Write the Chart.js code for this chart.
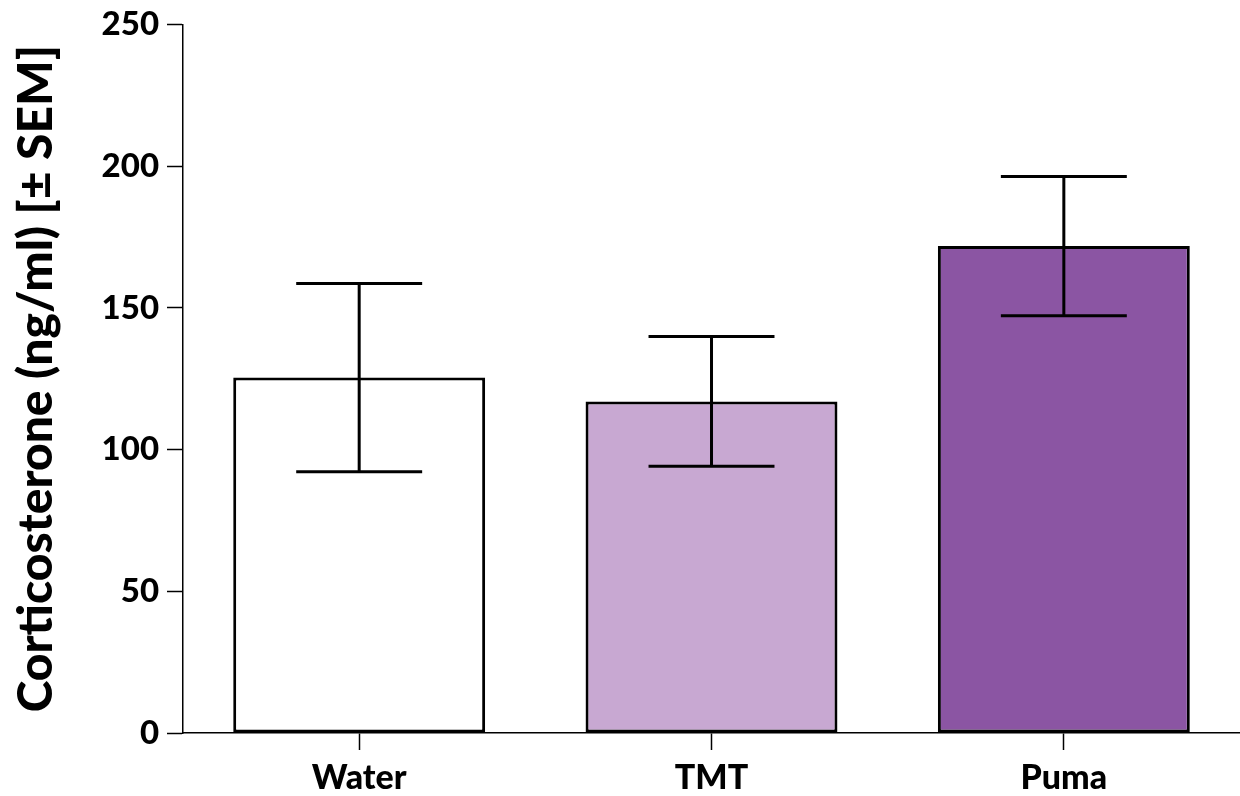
<!DOCTYPE html>
<html>
<head>
<meta charset="utf-8">
<script src="https://cdn.jsdelivr.net/npm/chart.js@4"></script>
<style>
  html, body { margin: 0; padding: 0; background: #ffffff; }
  #wrap { width: 1240px; height: 796px; position: relative; }
</style>
</head>
<body>
<div id="wrap"><canvas id="chart" width="1240" height="796"></canvas></div>
<script>
// Groups and plasma corticosterone means with their SEM
const groups = ['Water', 'TMT', 'Puma'];
const means = [125.4, 117.0, 171.8];
const sems = [33.2, 22.9, 24.6];
const barColors = ['#ffffff', '#c8a8d2', '#8b55a3'];
const yTicks = [0, 50, 100, 150, 200, 250];

const FONT = 'Lato, "Open Sans", "Liberation Sans", sans-serif';

// Draws the ± SEM whiskers on top of each bar
const semWhiskers = {
  id: 'semWhiskers',
  afterDatasetsDraw(chart) {
    const ctx = chart.ctx;
    const y = chart.scales.y;
    const meta = chart.getDatasetMeta(0);
    ctx.save();
    ctx.strokeStyle = '#000';
    ctx.lineWidth = 3;
    ctx.lineCap = 'butt';
    meta.data.forEach((bar, i) => {
      const x = bar.x;
      const hi = y.getPixelForValue(means[i] + sems[i]);
      const lo = y.getPixelForValue(means[i] - sems[i]);
      const half = bar.width * 0.25;
      ctx.beginPath();
      ctx.moveTo(x, hi); ctx.lineTo(x, lo);
      ctx.moveTo(x - half, hi); ctx.lineTo(x + half, hi);
      ctx.moveTo(x - half, lo); ctx.lineTo(x + half, lo);
      ctx.stroke();
    });
    ctx.restore();
  }
};

new Chart(document.getElementById('chart'), {
  type: 'bar',
  data: {
    labels: groups,
    datasets: [{
      data: means,
      backgroundColor: barColors,
      borderColor: '#000',
      borderWidth: 3,
      borderSkipped: false,
      categoryPercentage: 1.0,
      barPercentage: 0.715
    }]
  },
  options: {
    responsive: false,
    animation: false,
    devicePixelRatio: 1,
    layout: { padding: { top: 0, right: 0, bottom: 0, left: 8 } },
    plugins: {
      legend: { display: false },
      tooltip: { enabled: false }
    },
    scales: {
      x: {
        offset: true,
        afterFit(scale) { scale.height = 63; },
        border: { display: true, color: '#000', width: 1.5 },
        grid: {
          offset: false,
          drawOnChartArea: false,
          drawTicks: true,
          tickLength: 17,
          tickWidth: 1.5,
          tickColor: '#000'
        },
        ticks: {
          color: '#000',
          padding: 8,
          font: { family: FONT, size: 34, weight: 900 }
        }
      },
      y: {
        min: 0,
        max: 250,
        afterBuildTicks(scale) {
          scale.ticks = yTicks.map(v => ({ value: v }));
        },
        border: { display: true, color: '#000', width: 1.5 },
        grid: {
          drawOnChartArea: false,
          drawTicks: true,
          tickLength: 16,
          tickWidth: 1.5,
          tickColor: '#000'
        },
        ticks: {
          color: '#000',
          padding: 8,
          font: { family: FONT, size: 33, weight: 900, lineHeight: 1.0 }
        },
        title: {
          display: true,
          text: 'Corticosterone (ng/ml) [± SEM]',
          color: '#000',
          padding: { top: 0, bottom: 28 },
          font: { family: FONT, size: 48, weight: 900 }
        }
      }
    }
  },
  plugins: [semWhiskers]
});
</script>
</body>
</html>
